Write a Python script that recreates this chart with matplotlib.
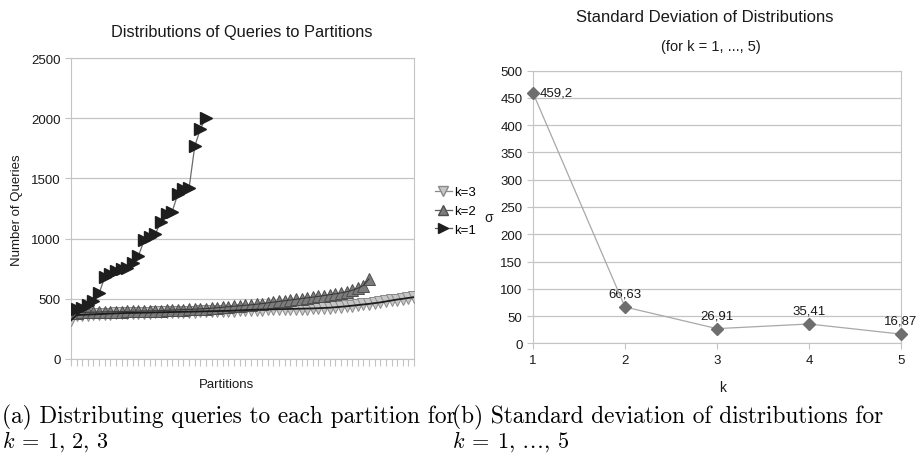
import numpy as np
import matplotlib
matplotlib.use('Agg')
import matplotlib.pyplot as plt
from matplotlib.lines import Line2D

plt.rcParams['font.family'] = ['Liberation Sans', 'DejaVu Sans']
plt.rcParams['mathtext.fontset'] = 'cm'

# queries per partition, one list per k
k1_queries = [410, 415, 425, 445, 480, 545, 680, 710, 735, 748, 755, 800, 858,
              985, 1012, 1040, 1140, 1205, 1225, 1370, 1415, 1420, 1765, 1910, 2005]
k2_queries = [385, 386, 387, 388, 389, 390, 391, 392, 393, 394,
              395, 396, 397, 398, 399, 400, 402, 404, 406, 408,
              410, 412, 414, 416, 419, 422, 426, 430, 434, 438,
              442, 446, 450, 455, 460, 466, 472, 478, 484, 490,
              496, 502, 508, 514, 520, 527, 534, 541, 549, 558,
              570, 588, 610, 665]
k3_queries = [320, 365, 367, 369, 371, 373, 375, 377, 379, 381,
              382, 383, 384, 385, 386, 387, 388, 389, 390, 391,
              392, 393, 394, 395, 396, 397, 398, 399, 400, 402,
              404, 406, 408, 410, 411, 412, 413, 414, 415, 416,
              417, 418, 419, 420, 422, 424, 426, 430, 434, 438,
              443, 448, 453, 458, 464, 470, 478, 486, 494, 500,
              507, 514]
y_ticks_left = [0, 500, 1000, 1500, 2000, 2500]

# standard deviation per k (right chart)
k_values = [1, 2, 3, 4, 5]
sigma = [459.2, 66.63, 26.91, 35.41, 16.87]
sigma_labels = ['459,2', '66,63', '26,91', '35,41', '16,87']
y_ticks_right = [0, 50, 100, 150, 200, 250, 300, 350, 400, 450, 500]

W, H = 918, 464
fig = plt.figure(figsize=(W / 100, H / 100), dpi=100)

def box(x0, y0, x1, y1):
    return [x0 / W, 1 - y1 / H, (x1 - x0) / W, (y1 - y0) / H]

grid_c = '#c4c4c4'
txt_c = '#1a1a1a'
tick_fs = 9.5

# ---------------- left chart ----------------
ax = fig.add_axes(box(71, 59, 414, 360))
ax.set_xlim(0, len(k3_queries) - 1)
ax.set_ylim(0, 2500)
ax.set_yticks(y_ticks_left)
ax.set_xticks(np.arange(len(k3_queries)))
ax.set_xticklabels([])
ax.yaxis.grid(True, color=grid_c, lw=0.9)
ax.set_axisbelow(True)
for s in ax.spines.values():
    s.set_color(grid_c)
ax.tick_params(axis='y', colors=grid_c, labelcolor=txt_c, labelsize=tick_fs, length=4, width=0.8)
ax.tick_params(axis='x', colors=grid_c, length=5, width=0.8)

x3 = np.arange(len(k3_queries))
x2 = np.arange(len(k2_queries))
x1 = np.arange(len(k1_queries))
ax.plot(x3, k3_queries, ls='none', marker='v', ms=8, mfc='#c6c6c6', mec='#8a8a8a', mew=0.7, zorder=3)
ax.plot(x2, k2_queries, ls='none', marker='^', ms=8, mfc='#7c7c7c', mec='#4e4e4e', mew=0.7, zorder=4)
ax.plot(x3, k3_queries, color='#1c1c1c', lw=1.3, zorder=5)
ax.plot(x2, k2_queries, color='#3a3a3a', lw=0.8, zorder=5)
ax.plot(x1, k1_queries, color='#6a6a6a', lw=0.9, zorder=6)
ax.plot(x1, k1_queries, ls='none', marker='>', ms=8, mfc='#1e1e1e', mec='#1e1e1e', zorder=7)

fig.text(242 / W, 1 - 33 / H, 'Distributions of Queries to Partitions', ha='center', va='center',
         fontsize=11.8, color=txt_c)
fig.text(17 / W, 1 - 210 / H, 'Number of Queries', rotation=90, ha='center', va='center',
         fontsize=9.5, color=txt_c)
fig.text(226 / W, 1 - 385 / H, 'Partitions', ha='center', va='center', fontsize=9.5, color=txt_c)

handles = [
    Line2D([], [], color='#8a8a8a', lw=0.9, marker='v', ms=7, mfc='#c6c6c6', mec='#8a8a8a'),
    Line2D([], [], color='#5a5a5a', lw=0.9, marker='^', ms=7, mfc='#7c7c7c', mec='#4e4e4e'),
    Line2D([], [], color='#5a5a5a', lw=0.9, marker='>', ms=7, mfc='#1e1e1e', mec='#1e1e1e'),
]
fig.legend(handles, ['k=3', 'k=2', 'k=1'], loc='center left',
           bbox_to_anchor=(428 / W, 1 - 212 / H), frameon=False, fontsize=9.5,
           handlelength=1.3, handletextpad=0.15, labelspacing=0.5, borderpad=0)

# ---------------- right chart ----------------
bx = fig.add_axes(box(533, 71.7, 901, 344.3))
bx.set_xlim(1, 5)
bx.set_ylim(0, 500)
bx.set_xticks(k_values)
bx.set_yticks(y_ticks_right)
bx.yaxis.grid(True, color=grid_c, lw=0.9)
bx.set_axisbelow(True)
for s in bx.spines.values():
    s.set_color(grid_c)
bx.tick_params(colors=grid_c, labelcolor=txt_c, labelsize=tick_fs, length=4, width=0.8)
bx.plot(k_values, sigma, color='#a8a8a8', lw=0.9, marker='D', ms=6.5,
        mfc='#6e6e6e', mec='#6e6e6e', clip_on=False, zorder=5)
for i, (k, s, lab) in enumerate(zip(k_values, sigma, sigma_labels)):
    if i == 0:
        bx.annotate(lab, (k, s), xytext=(5, 0), textcoords='offset points',
                    ha='left', va='center', fontsize=9.5, color=txt_c)
    else:
        bx.annotate(lab, (k, s), xytext=(0, 9.5), textcoords='offset points',
                    ha='center', va='center', fontsize=9.5, color=txt_c)

fig.text(705 / W, 1 - 18 / H, 'Standard Deviation of Distributions', ha='center', va='center',
         fontsize=12, color=txt_c)
fig.text(711 / W, 1 - 47 / H, '(for k = 1, ..., 5)', ha='center', va='center',
         fontsize=10.5, color=txt_c)
fig.text(489 / W, 1 - 218 / H, 'σ', ha='center', va='center', fontsize=10, color=txt_c)
fig.text(723 / W, 1 - 388 / H, 'k', ha='center', va='center', fontsize=10, color=txt_c)

# ---------------- captions ----------------
cap_fs = 16.8
fig.text(2 / W, 1 - 417 / H, '(a) Distributing queries to each partition for',
         ha='left', va='center', fontsize=cap_fs, family='cmr10')
fig.text(452 / W, 1 - 417 / H, '(b) Standard deviation of distributions for',
         ha='left', va='center', fontsize=cap_fs, family='cmr10')
fig.text(2 / W, 1 - 442 / H, r'$k\:=\:1,\,2,\,3$', ha='left', va='center', fontsize=cap_fs - 0.8)
fig.text(452 / W, 1 - 442 / H, r'$k\:=\:1,\,\ldots,\,5$', ha='left', va='center', fontsize=cap_fs - 0.8)

fig.savefig('out.png', dpi=100)
